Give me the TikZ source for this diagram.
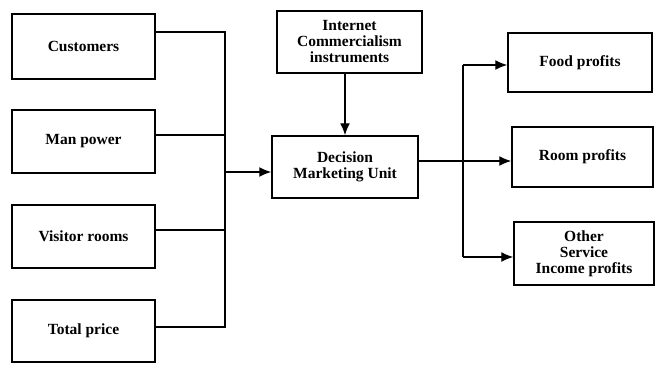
\documentclass[tikz,border=0pt]{standalone}
\usepackage{fontspec}
\setmainfont{Liberation Serif}
\usetikzlibrary{arrows.meta}
\begin{document}
\begin{tikzpicture}[x=1pt,y=-1pt,
  box/.style={draw, line width=1.5pt, align=center, inner sep=2pt,
    font=\bfseries\fontsize{15.5}{16}\selectfont},
  link/.style={line width=1.4pt},
  arr/.style={line width=1.4pt, -{Latex[length=12pt,width=10pt]}}]
\useasboundingbox (0,0) rectangle (655,364);
% inputs
\node[box, minimum width=143pt, minimum height=65pt] (cust) at (83.5,46.5) {Customers};
\node[box, minimum width=143pt, minimum height=63pt] (man) at (83.5,141.5) {Man power};
\node[box, minimum width=143pt, minimum height=63pt] (vis) at (83.5,236.5) {Visitor rooms};
\node[box, minimum width=143pt, minimum height=62pt] (tot) at (83.5,331) {Total price};
% centre
\node[box, minimum width=145pt, minimum height=62pt] (inet) at (349.5,42) {Internet\\Commercialism\\instruments};
\node[box, minimum width=146pt, minimum height=62pt] (dmu) at (345,167) {Decision\\Marketing Unit};
% outputs
\node[box, minimum width=144pt, minimum height=59pt] (food) at (580,62.5) {Food profits};
\node[box, minimum width=141pt, minimum height=60pt] (room) at (582.5,157) {Room profits};
\node[box, minimum width=140pt, minimum height=63pt] (other) at (584,253.5) {Other\\Service\\Income profits};
% input bus
\coordinate (busL) at (225,172);
\draw[link] (cust.east |- 0,32) -| (225,327) -- (tot.east |- 0,327);
\draw[link] (man.east |- 0,135) -- (225,135);
\draw[link] (vis.east |- 0,230) -- (225,230);
\draw[arr] (busL) -- (dmu.west |- busL);
% internet to decision
\draw[arr] (inet.south -| 345,0) -- (dmu.north -| 345,0);
% output bus
\coordinate (busR) at (463,161);
\draw[arr] (dmu.east |- busR) -- (room.west |- busR);
\draw[arr] (463,65) -- (food.west |- 0,65);
\draw[link] (463,65) -- (463,257);
\draw[arr] (463,257) -- (other.west |- 0,257);
\end{tikzpicture}
\end{document}
